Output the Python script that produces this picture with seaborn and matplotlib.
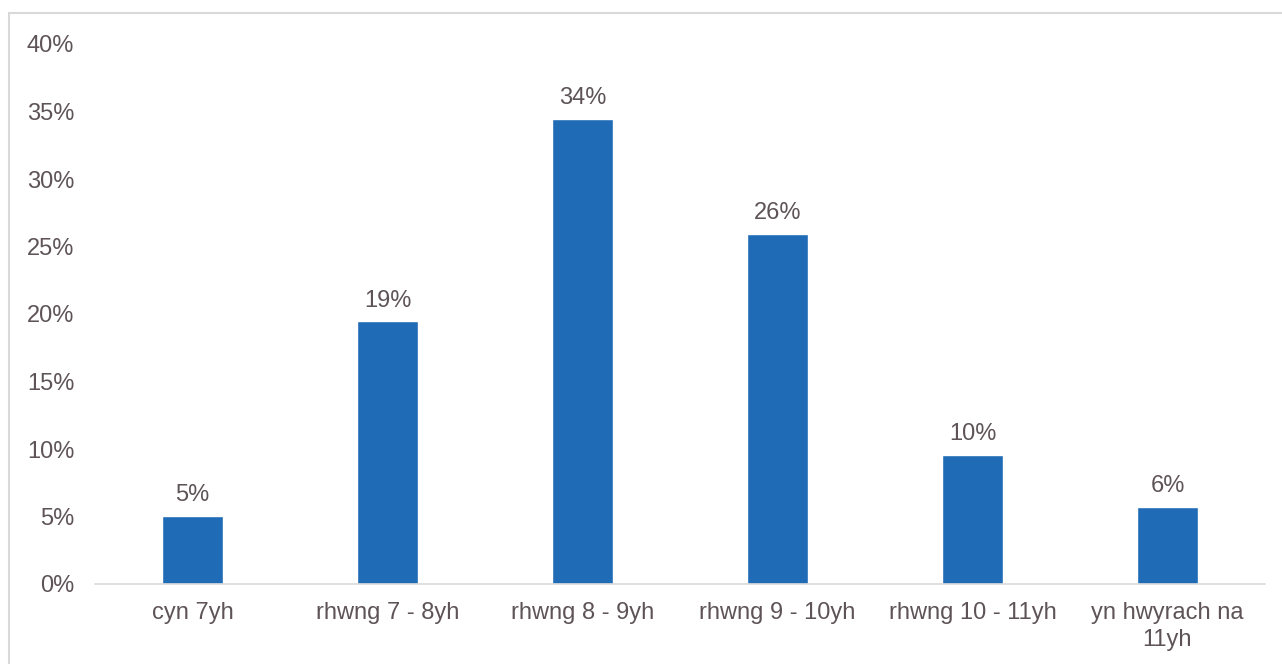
import matplotlib
matplotlib.use("Agg")
import matplotlib.pyplot as plt
import matplotlib.patches as mpatches
from matplotlib.ticker import FuncFormatter
import seaborn as sns

# data
categories = ["cyn 7yh", "rhwng 7 - 8yh", "rhwng 8 - 9yh", "rhwng 9 - 10yh",
              "rhwng 10 - 11yh", "yn hwyrach na\n11yh"]
values = [5.05, 19.45, 34.45, 25.95, 9.55, 5.7]
value_labels = ["5%", "19%", "34%", "26%", "10%", "6%"]
y_ticks = [0, 5, 10, 15, 20, 25, 30, 35, 40]

TEXT = "#5E5458"
BAR = "#1F6BB5"
FS = 17

sns.set_theme(style="white")
plt.rcParams["font.family"] = ["Liberation Sans", "DejaVu Sans"]

fig = plt.figure(figsize=(12.82, 6.64), dpi=100)
ax = fig.add_axes([95 / 1282, 80 / 664, 1170 / 1282, 540 / 664])

sns.barplot(x=categories, y=values, color=BAR, width=0.31, saturation=1, ax=ax)

for c in ax.containers:
    ax.bar_label(c, labels=value_labels, padding=7, fontsize=FS, color=TEXT)

ax.set_xlim(-0.5, 5.5)
ax.set_ylim(0, 40)
ax.set_yticks(y_ticks)
ax.yaxis.set_major_formatter(FuncFormatter(lambda v, p: f"{v:.0f}%"))
ax.tick_params(axis="both", length=0, labelsize=FS, labelcolor=TEXT)
ax.tick_params(axis="y", pad=15)
ax.tick_params(axis="x", pad=13)
for t in ax.get_xticklabels():
    t.set_linespacing(1.3)

for s in ["top", "right", "left"]:
    ax.spines[s].set_visible(False)
ax.spines["bottom"].set_color("#D9D9D9")
ax.spines["bottom"].set_linewidth(1.2)

# chart border
border = mpatches.Rectangle((9 / 1282, -0.05), 1.1, (664 - 13) / 664 + 0.05,
                            transform=fig.transFigure, fill=False,
                            edgecolor="#D9D9D9", linewidth=1.5, clip_on=False)
fig.patches.append(border)

fig.savefig("out.png", dpi=100)
